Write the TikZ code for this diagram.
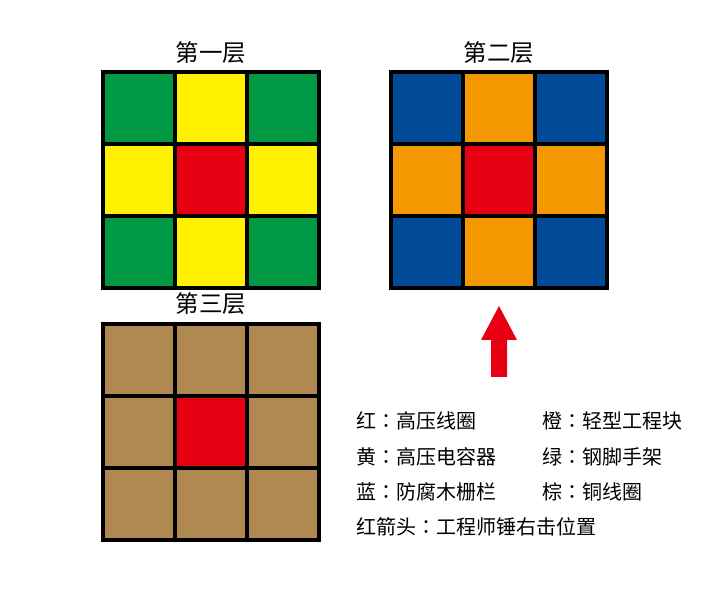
\documentclass[tikz,border=0pt]{standalone}
\usepackage{fontspec}
\setmainfont{Noto Sans CJK SC}
\newfontfamily\cjktc{Noto Sans CJK TC}
\definecolor{cgreen}{HTML}{009A44}
\definecolor{cyellow}{HTML}{FFF100}
\definecolor{cred}{HTML}{E60012}
\definecolor{cblue}{HTML}{004A98}
\definecolor{corange}{HTML}{F39800}
\definecolor{cbrown}{HTML}{B08852}
\newcommand{\cc}{{\cjktc ：}}
\begin{document}
\begin{tikzpicture}[x=1pt,y=-1pt,
  cell/.style={draw=black,line width=4pt,minimum size=72pt,inner sep=0pt,fill=#1},
  title/.style={font=\fontsize{23.5}{26}\selectfont,inner sep=0pt},
  legend/.style={font=\fontsize{20}{22}\selectfont,inner sep=0pt,anchor=west}]
\useasboundingbox (0,0) rectangle (710,612);
% grid 1
\foreach \r/\cols in {0/{cgreen,cyellow,cgreen},1/{cyellow,cred,cyellow},2/{cgreen,cyellow,cgreen}}{
  \foreach \c [count=\i from 0] in \cols {
    \node[cell=\c] (a-\r-\i) at (139+72*\i,108+72*\r) {};
  }
}
% grid 2
\foreach \r/\cols in {0/{cblue,corange,cblue},1/{corange,cred,corange},2/{cblue,corange,cblue}}{
  \foreach \c [count=\i from 0] in \cols {
    \node[cell=\c] (b-\r-\i) at (427+72*\i,108+72*\r) {};
  }
}
% grid 3
\foreach \r/\cols in {0/{cbrown,cbrown,cbrown},1/{cbrown,cred,cbrown},2/{cbrown,cbrown,cbrown}}{
  \foreach \c [count=\i from 0] in \cols {
    \node[cell=\c] (c-\r-\i) at (139+72*\i,360+72*\r) {};
  }
}
\node[title] (t1) at (211,53) {第一层};
\node[title] (t2) at (499,53) {第二层};
\node[title] (t3) at (211,304) {第三层};
% arrow
\fill[cred] (499,306) -- (517,340) -- (507,340) -- (507,377) -- (491,377) -- (491,340) -- (481,340) -- cycle;
% legend
\node[legend] (l1) at (356,421) {红\cc 高压线圈};
\node[legend] (l2) at (356,457) {黄\cc 高压电容器};
\node[legend] (l3) at (356,492) {蓝\cc 防腐木栅栏};
\node[legend] (l4) at (356,527) {红箭头\cc 工程师锤右击位置};
\node[legend] (r1) at (542,421) {橙\cc 轻型工程块};
\node[legend] (r2) at (542,457) {绿\cc 钢脚手架};
\node[legend] (r3) at (542,492) {棕\cc 铜线圈};
\end{tikzpicture}
\end{document}
